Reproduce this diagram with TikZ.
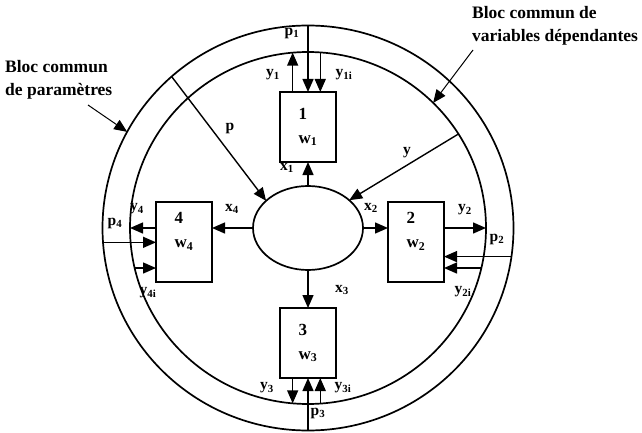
\documentclass[tikz,border=0pt]{standalone}
\usepackage{fontspec}
\setmainfont{Liberation Serif}
\usetikzlibrary{arrows.meta,positioning,shapes.geometric}

\begin{document}
\begin{tikzpicture}[
  x=1pt, y=-1pt,
  font=\bfseries,
  ring/.style={draw,ellipse,line width=1.7pt,inner sep=0pt,outer sep=0pt},
  box/.style={draw,line width=1.6pt,minimum width=56pt,minimum height=70pt,inner sep=0pt,outer sep=0pt,align=left,font=\fontsize{17}{24}\selectfont\bfseries},
  side/.style={box,minimum height=80pt},
  arrow/.style={-{Triangle[length=13pt,width=11pt]},line width=1.4pt},
  note/.style={-{Triangle[length=13pt,width=11pt]},line width=1pt},
  lbl/.style={inner sep=0pt,font=\fontsize{15.5}{15}\selectfont\bfseries},
  title/.style={inner sep=0pt,anchor=west,align=left,font=\fontsize{17.5}{23}\selectfont\bfseries}
]
  \useasboundingbox (0,0) rectangle (642,433);

  % rings and centre
  \node[ring, minimum width=411pt, minimum height=405pt] (outer) at (308,228) {};
  \node[ring, minimum width=356pt, minimum height=352pt] (inner) at (308,228) {};
  \node[ring, minimum width=110pt, minimum height=84pt] (mid) at (308,228) {};

  % sub-systems
  \node[box, above=24pt of mid] (box1) {1\\w\textsubscript{1}};
  \node[side, right=25pt of mid, yshift=-14pt] (box2) {2\\w\textsubscript{2}\\\phantom{w}};
  \node[box, below=38pt of mid] (box3) {3\\w\textsubscript{3}};
  \node[side, left=41pt of mid, yshift=-14pt] (box4) {4\\w\textsubscript{4}\\\phantom{w}};

  % box 1
  \draw[arrow] (outer.north) -- (box1.north);
  \draw[arrow] (box1.north -| inner.95) -- (inner.95);
  \draw[arrow] (inner.86) -- (inner.86 |- box1.north);
  \draw[arrow] (mid.north) -- (box1.south);
  % box 2
  \draw[arrow] (mid.east) -- (mid.east -| box2.west);
  \draw[arrow] (inner.east -| box2.east) -- (inner.east);
  \draw[arrow] (outer.352.5) -- (outer.352.5 -| box2.east);
  \draw[arrow] (inner.347) -- (inner.347 -| box2.east);
  % box 3
  \draw[arrow] (mid.south) -- (box3.north);
  \draw[arrow] (box3.south -| inner.265) -- (inner.265);
  \draw[arrow] (outer.south) -- (box3.south);
  \draw[arrow] (inner.274) -- (inner.274 |- box3.south);
  % box 4
  \draw[arrow] (mid.west) -- (mid.west -| box4.east);
  \draw[arrow] (inner.west -| box4.west) -- (inner.west);
  \draw[arrow] (outer.184) -- (outer.184 -| box4.west);
  \draw[arrow] (inner.193) -- (inner.193 -| box4.west);

  % common blocks into the centre
  \draw[arrow] (outer.132) -- (mid.147);
  \draw[arrow] (inner.32) -- (mid.34);

  % labels
  \node[lbl] (lp1) at (292,33) {p\textsubscript{1}};
  \node[lbl] (ly1) at (273,75) {y\textsubscript{1}};
  \node[lbl] (ly1i) at (344,75) {y\textsubscript{1i}};
  \node[lbl] (lx1) at (287,168) {x\textsubscript{1}};
  \node[lbl] (lx2) at (371,208) {x\textsubscript{2}};
  \node[lbl] (ly2) at (465,210) {y\textsubscript{2}};
  \node[lbl] (lp2) at (497,239) {p\textsubscript{2}};
  \node[lbl] (ly2i) at (463,292) {y\textsubscript{2i}};
  \node[lbl] (lx3) at (342,290) {x\textsubscript{3}};
  \node[lbl] (ly3) at (267,388) {y\textsubscript{3}};
  \node[lbl] (ly3i) at (343,388) {y\textsubscript{3i}};
  \node[lbl] (lp3) at (318,413) {p\textsubscript{3}};
  \node[lbl] (lx4) at (232,209) {x\textsubscript{4}};
  \node[lbl] (ly4) at (137,209) {y\textsubscript{4}};
  \node[lbl] (lp4) at (115,223) {p\textsubscript{4}};
  \node[lbl] (ly4i) at (148,293) {y\textsubscript{4i}};
  \node[lbl] (lp) at (230,128) {p};
  \node[lbl] (ly) at (407,153) {y};

  % captions
  \node[title] (tpar) at (5,80) {Bloc commun\\de paramètres};
  \node[title] (tvar) at (472,26) {Bloc commun de\\variables dépendantes};
  \coordinate (spar) at (88,105);
  \coordinate (svar) at (473,50);
  \draw[note] (spar) -- (outer.152);
  \draw[note] (svar) -- (inner.45);
\end{tikzpicture}
\end{document}
